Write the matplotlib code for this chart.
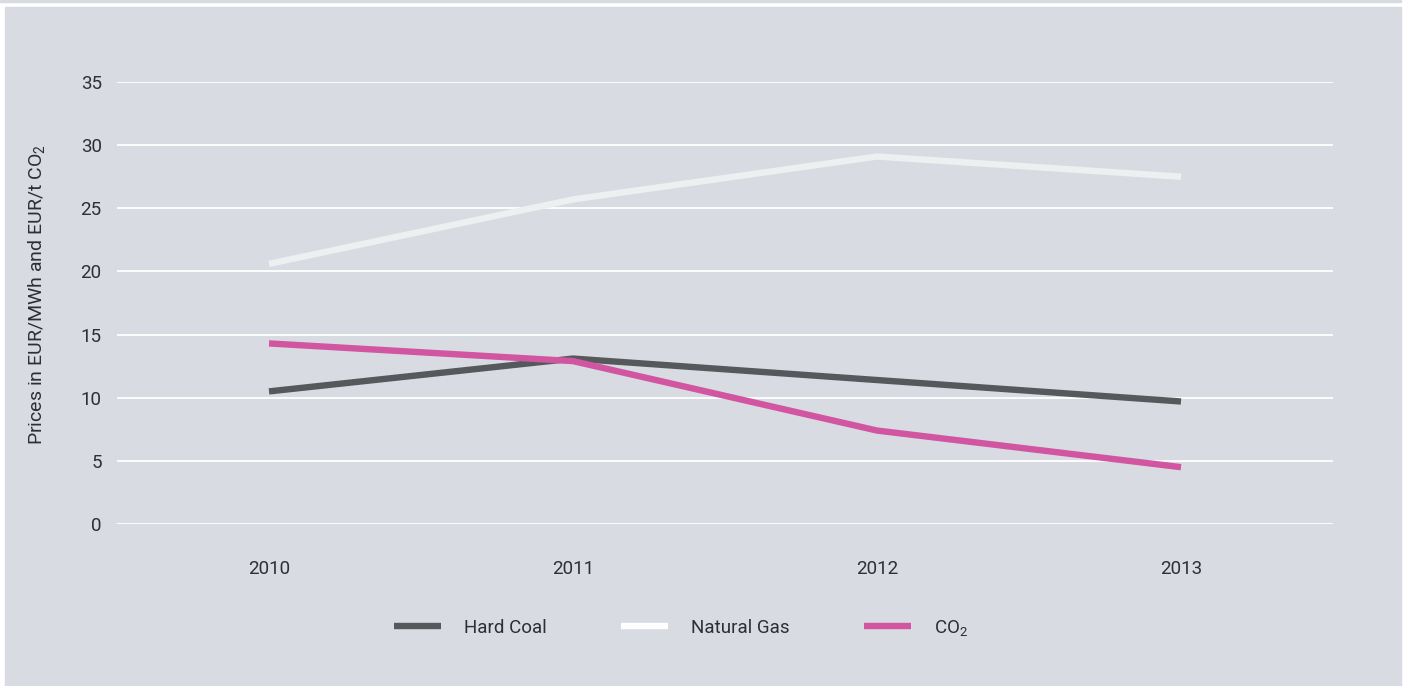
"""Fuel and CO2 price chart, 2010-2013."""

import matplotlib.pyplot as plt
from matplotlib.patches import Rectangle

years = ["2010", "2011", "2012", "2013"]
hard_coal = [10.5, 13.1, 11.4, 9.7]
natural_gas = [20.6, 25.7, 29.1, 27.5]
co2 = [14.3, 12.9, 7.4, 4.5]
y_ticks = [0, 5, 10, 15, 20, 25, 30, 35]

BG = "#d8dbe2"
TEXT = "#2e2e33"

plt.rcParams["font.family"] = ["Roboto", "DejaVu Sans"]
plt.rcParams["mathtext.default"] = "regular"

W, H = 1405, 686
figure = plt.figure(figsize=(W / 100, H / 100), dpi=100, facecolor="white")

# grey panel and thin strip along the top
figure.patches.append(Rectangle((5 / W, 0), 1396 / W, 679 / H,
                                transform=figure.transFigure, color=BG, zorder=-2))
figure.patches.append(Rectangle((0, 684 / H), 1401 / W, 2 / H,
                                transform=figure.transFigure, color=BG, zorder=-2))

axis = figure.add_axes([117 / W, (H - 524) / H, 1216 / W, 442 / H])
axis.set_facecolor("none")
x = range(len(years))
line_kw = dict(linewidth=4.6, solid_capstyle="round", solid_joinstyle="round", zorder=3)
axis.plot(x, hard_coal, color="#56595c", label="Hard Coal", **line_kw)
axis.plot(x, natural_gas, color="#eeeff1", label="Natural Gas", **line_kw)
axis.plot(x, co2, color="#d155a0", label="CO$_2$", **line_kw)

axis.set_xlim(-0.5, 3.5)
axis.set_ylim(0, 35)
axis.set_yticks(y_ticks)
axis.set_xticks(list(x), years)
axis.grid(axis="y", color="white", linewidth=1.3, zorder=1)
axis.set_axisbelow(True)
for spine in axis.spines.values():
    spine.set_visible(False)
axis.tick_params(axis="y", length=0, pad=11, labelsize=13.5, labelcolor=TEXT)
axis.tick_params(axis="x", length=0, pad=26, labelsize=13.5, labelcolor=TEXT)
axis.set_ylabel("Prices in EUR/MWh and EUR/t CO$_2$", fontsize=14, color=TEXT)
axis.yaxis.set_label_coords(-70 / 1216, 0.52)

handles, labels = axis.get_legend_handles_labels()
for h in handles:
    h.set_solid_capstyle("butt")
legend = figure.legend(
    handles, labels, loc="center", bbox_to_anchor=(681 / W, (H - 628) / H),
    ncol=3, frameon=False, fontsize=13.5, handlelength=2.5, handletextpad=1.2,
    columnspacing=4.0, labelcolor=TEXT,
)
legend.legend_handles[1].set_color("white")

figure.savefig("out.png", dpi=100, facecolor="white")
plt.close(figure)
